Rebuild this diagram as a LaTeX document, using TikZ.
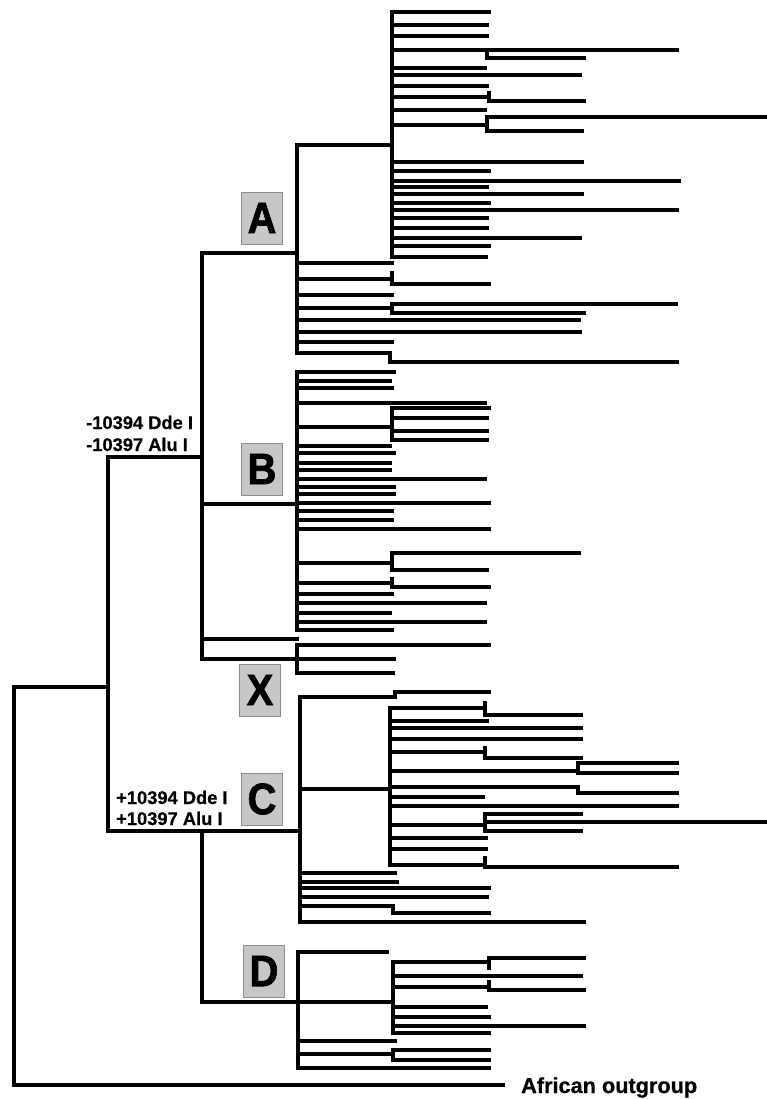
\documentclass[tikz,border=0pt]{standalone}
\usepackage{fontspec}
\usepackage{graphicx}
\setmainfont{Liberation Sans}
\newfontfamily\heavyfont[BoldFeatures={FakeBold=1.6}]{Liberation Sans}
\newfontfamily\labfont[BoldFeatures={FakeBold=0.6}]{Liberation Sans}
\tikzset{
  br/.style={line width=3.3pt, line cap=rect, line join=miter},
  rt/.style={line width=3.1pt, line cap=rect, line join=miter},
  lbox/.style={draw=black!45, line width=0.6pt, fill=black!22, minimum width=41pt,
    minimum height=52pt, inner sep=0pt, font=\heavyfont\fontsize{40}{40}\selectfont\bfseries},
  lab/.style={inner sep=0pt, font=\labfont\fontsize{18.3}{20}\selectfont\bfseries},
}
% #1 = x of the branching point, #2/#3 = vertical extent, #4 = list of y/endx of children
\newcommand\tnode[4]{%
  \draw[br] (#1,#2) -- (#1,#3);
  \foreach \yy/\ee in {#4} { \draw[br] (#1,\yy) -- (\ee,\yy); }%
}
\begin{document}
\begin{tikzpicture}[x=1pt,y=-1pt]
\useasboundingbox (0,0) rectangle (766,1099);
% root and outgroup
\coordinate (root) at (14,687);
\coordinate (og) at (503,1085);
\draw[rt] (108,687) -- (root) -- (14,1085) -- (og);
\node[anchor=base west, inner sep=0pt, font=\labfont\fontsize{21.7}{24}\selectfont\bfseries] (oglab) at (521,1093) {African outgroup};
% deep nodes
\draw[rt] (108,457) -- (108,831);
\draw[rt] (108,457) -- (202,457);
\draw[br] (108,831) -- (300,831);
\tnode{202}{253}{659}{253/297, 504/297, 639/297, 659/297}
\tnode{202}{831}{1002}{1002/298}
% clade A
\tnode{297}{145}{353}{145/392, 263/392, 279/392, 295/392, 308/392, 320/579, 332/580, 342/392, 353/390}
\tnode{392}{273}{284}{284/489}
\tnode{392}{304}{313}{304/676, 313/584}
\tnode{390}{353}{362}{362/677}
\tnode{392}{12}{257}{12/489, 25/487, 36/487, 50/487, 68/485, 75/580, 86/487, 97/489, 110/485, 125/487, 162/582, 171/489, 181/679, 187/487, 194/582, 203/489, 210/677, 218/487, 228/487, 238/580, 246/489, 257/486}
\tnode{487}{50}{58}{50/677, 58/584}
\tnode{489}{93}{101}{101/584}
\tnode{487}{117}{131}{117/766, 131/582}
% clade B
\tnode{297}{372}{630}{372/394, 381/390, 388/392, 403/485, 427/392, 446/390, 453/394, 463/390, 470/390, 479/485, 487/394, 494/394, 503/489, 511/392, 520/392, 529/489, 563/392, 583/392, 594/392, 603/485, 613/390, 622/485, 630/392}
\tnode{392}{408}{440}{408/489, 418/487, 431/487, 440/487}
\tnode{392}{553}{570}{553/579, 570/487}
\tnode{392}{579}{587}{587/489}
% clade X
\tnode{297}{645}{673}{645/489, 659/394, 673/393}
% clade C
\tnode{300}{697}{922}{697/395, 789/390, 873/395, 882/397, 888/489, 897/487, 906/393, 922/584}
\tnode{395}{692}{697}{692/489}
\tnode{393}{906}{913}{913/489}
\tnode{390}{708}{865}{708/485, 721/487, 728/581, 739/581, 752/485, 771/578, 787/578, 797/483, 806/677, 825/485, 838/486, 849/486, 865/485}
\tnode{485}{703}{715}{715/581}
\tnode{485}{748}{758}{758/581}
\tnode{578}{763}{773}{763/677, 773/677}
\tnode{578}{787}{793}{793/677}
\tnode{485}{814}{831}{814/581, 822/766, 831/581}
\tnode{485}{858}{867}{867/677}
% clade D
\tnode{298}{952}{1068}{952/387, 1002/393, 1041/395, 1054/393, 1068/489}
\tnode{393}{1050}{1060}{1050/489, 1060/489}
\tnode{393}{962}{1033}{962/489, 976/581, 987/489, 1007/486, 1017/489, 1026/584, 1033/489}
\tnode{489}{958}{968}{958/584}
\tnode{489}{982}{990}{990/584}
% clade letters
\node[lbox] (bA) at (262,218) {\scalebox{1}[1.1]{A}};
\node[lbox] (bB) at (262,469) {\scalebox{1}[1.1]{B}};
\node[lbox] (bX) at (260,690) {\scalebox{1}[1.1]{X}};
\node[lbox] (bC) at (262,799) {\scalebox{1}[1.1]{C}};
\node[lbox] (bD) at (264,971) {\scalebox{1}[1.1]{D}};
% mutation labels
\node[lab, anchor=base west] (m1) at (86,429) {-10394 Dde I};
\node[lab, anchor=base west] (m2) at (86,451) {-10397 Alu I};
\node[lab, anchor=base west] (p1) at (116,804) {+10394 Dde I};
\node[lab, anchor=base west] (p2) at (116,825) {+10397 Alu I};
\end{tikzpicture}
\end{document}
